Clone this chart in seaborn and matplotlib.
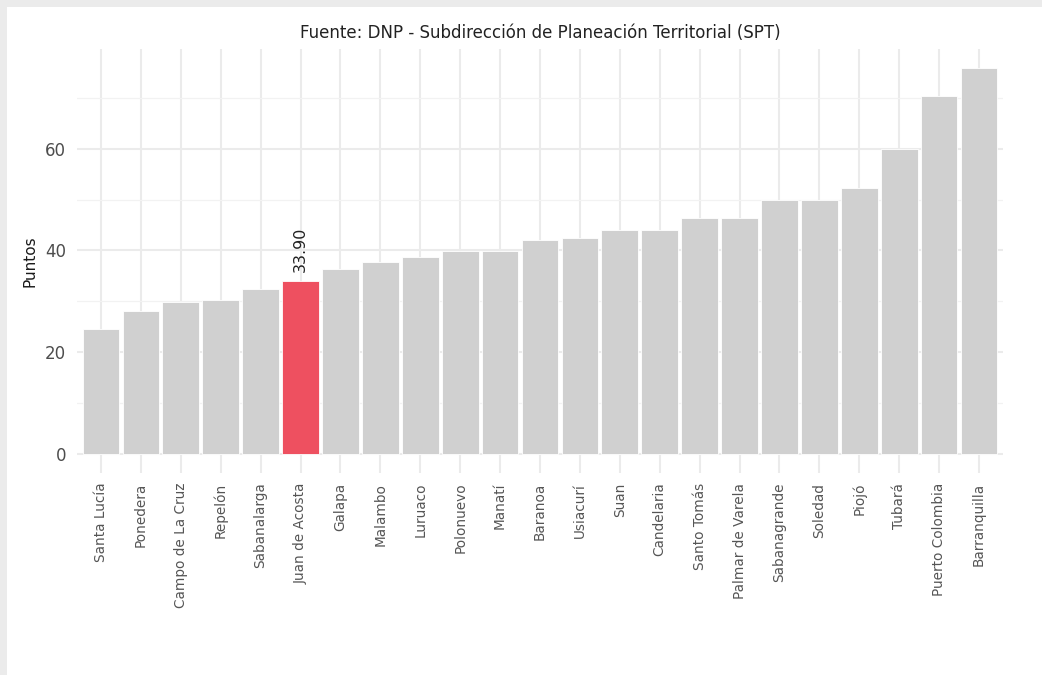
import matplotlib
matplotlib.use("Agg")
import matplotlib.pyplot as plt
import seaborn as sns
import pandas as pd
from matplotlib.patches import Rectangle
from matplotlib.ticker import MultipleLocator

municipios = ["Santa Lucía", "Ponedera", "Campo de La Cruz", "Repelón", "Sabanalarga",
              "Juan de Acosta", "Galapa", "Malambo", "Luruaco", "Polonuevo", "Manatí",
              "Baranoa", "Usiacurí", "Suan", "Candelaria", "Santo Tomás", "Palmar de Varela",
              "Sabanagrande", "Soledad", "Piojó", "Tubará", "Puerto Colombia", "Barranquilla"]
puntos = [24.6, 28.1, 29.9, 30.3, 32.4, 33.90, 36.4, 37.8, 38.7, 39.8, 39.8,
          42.1, 42.4, 44.0, 44.0, 46.3, 46.3, 49.9, 49.9, 52.3, 60.0, 70.4, 75.9]
destacado = "Juan de Acosta"
titulo = "Fuente: DNP - Subdirección de Planeación Territorial (SPT)"
etiqueta_y = "Puntos"

df = pd.DataFrame({"municipio": municipios, "puntos": puntos})
palette = {m: ("#EE5060" if m == destacado else "#D0D0D0") for m in municipios}

sns.set_theme(style="white")
plt.rcParams['font.family'] = ['DejaVu Sans']

fig = plt.figure(figsize=(10.42, 6.75), dpi=100)
fig.patch.set_facecolor("white")
fig.add_artist(Rectangle((0, 1 - 7 / 675), 1, 7 / 675, transform=fig.transFigure,
                         facecolor="#ebebeb", edgecolor="none", zorder=-5))
fig.add_artist(Rectangle((0, 0), 7 / 1042, 1, transform=fig.transFigure,
                         facecolor="#ebebeb", edgecolor="none", zorder=-5))

ax = fig.add_axes([77 / 1042, 1 - 473 / 675, 926 / 1042, (473 - 48.7) / 675])
ax.set_facecolor("white")

sns.barplot(data=df, x="municipio", y="puntos", hue="municipio", palette=palette,
            saturation=1, legend=False, width=0.92, edgecolor="white", linewidth=0.6,
            ax=ax, zorder=3)

n = len(municipios)
ax.set_xlim(-0.6, n - 1 + 0.6)
ymax = max(puntos)
ax.set_ylim(-0.05 * ymax, ymax * 1.05)
ax.yaxis.set_major_locator(MultipleLocator(20))
ax.yaxis.set_minor_locator(MultipleLocator(10))
ax.grid(True, which="major", axis="both", color="#EBEBEB", linewidth=1.5, zorder=0)
ax.grid(True, which="minor", axis="y", color="#F2F2F2", linewidth=0.9, zorder=0)
ax.set_axisbelow(True)
for s in ax.spines.values():
    s.set_visible(False)

ax.tick_params(axis="x", which="both", length=0, pad=7, labelsize=9.8, labelcolor="#555555",
               labelrotation=90)
ax.tick_params(axis="y", which="both", length=0, pad=8, labelsize=12, labelcolor="#4D4D4D")
ax.set_xlabel("")
ax.set_ylabel(etiqueta_y, fontsize=11, color="#1a1a1a", labelpad=5)

i = municipios.index(destacado)
ax.annotate(f"{puntos[i]:.2f}", xy=(i, puntos[i]), xytext=(0, 7), textcoords="offset points",
            rotation=90, ha="center", va="bottom", fontsize=11.5, color="#222222", zorder=5)

fig.text(540 / 1042, 1 - 33 / 675, titulo, ha="center", va="center", fontsize=12,
         color="#222222", family=["DejaVu Sans"])

fig.savefig("out.png", dpi=100, facecolor="white")
